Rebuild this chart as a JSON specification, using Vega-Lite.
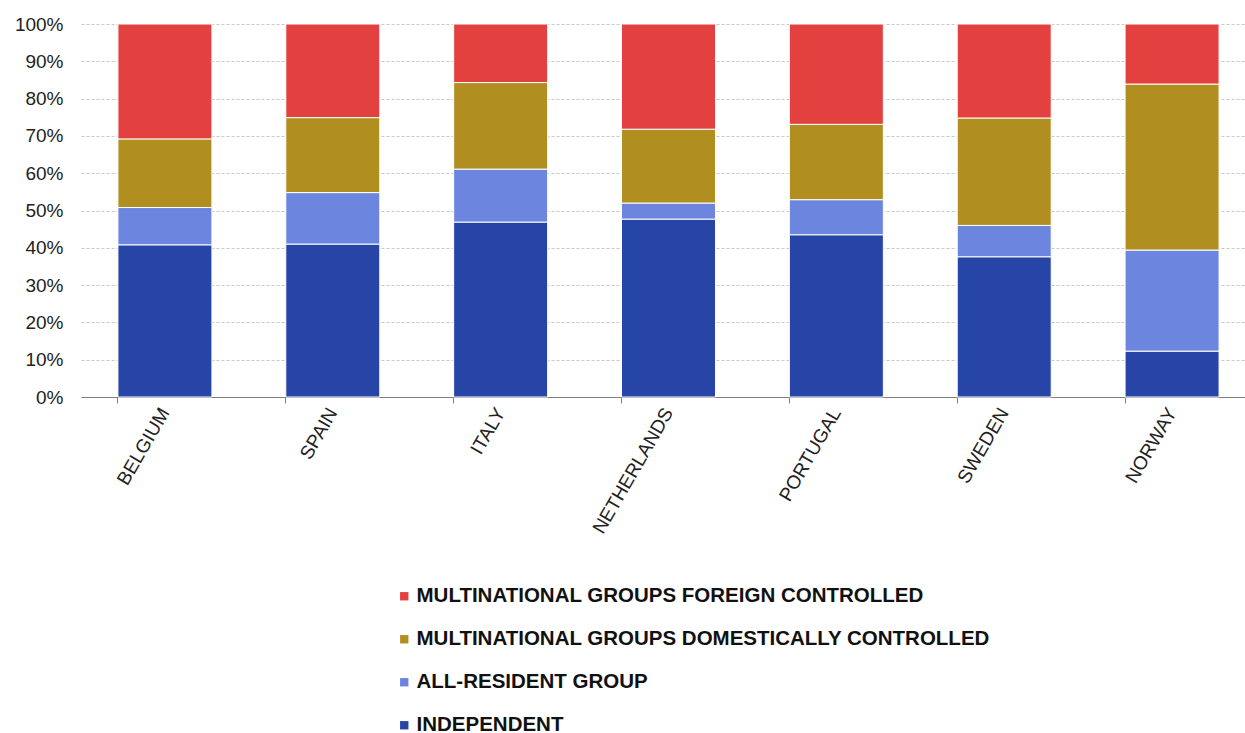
{
  "$schema": "https://vega.github.io/schema/vega-lite/v6.json",
  "width": 1175,
  "height": 373,
  "padding": {"left": 14, "top": 15, "right": 0, "bottom": 0},
  "background": "white",
  "config": {
    "view": {"stroke": null},
    "font": "Liberation Sans"
  },
  "data": {
    "values": [
      {"country": "BELGIUM", "cat": "INDEPENDENT", "rank": 1, "v": 40.8},
      {"country": "BELGIUM", "cat": "ALL-RESIDENT GROUP", "rank": 2, "v": 10.0},
      {"country": "BELGIUM", "cat": "MULTINATIONAL GROUPS DOMESTICALLY CONTROLLED", "rank": 3, "v": 18.4},
      {"country": "BELGIUM", "cat": "MULTINATIONAL GROUPS FOREIGN CONTROLLED", "rank": 4, "v": 30.8},
      {"country": "SPAIN", "cat": "INDEPENDENT", "rank": 1, "v": 41.0},
      {"country": "SPAIN", "cat": "ALL-RESIDENT GROUP", "rank": 2, "v": 13.8},
      {"country": "SPAIN", "cat": "MULTINATIONAL GROUPS DOMESTICALLY CONTROLLED", "rank": 3, "v": 20.1},
      {"country": "SPAIN", "cat": "MULTINATIONAL GROUPS FOREIGN CONTROLLED", "rank": 4, "v": 25.1},
      {"country": "ITALY", "cat": "INDEPENDENT", "rank": 1, "v": 46.9},
      {"country": "ITALY", "cat": "ALL-RESIDENT GROUP", "rank": 2, "v": 14.2},
      {"country": "ITALY", "cat": "MULTINATIONAL GROUPS DOMESTICALLY CONTROLLED", "rank": 3, "v": 23.2},
      {"country": "ITALY", "cat": "MULTINATIONAL GROUPS FOREIGN CONTROLLED", "rank": 4, "v": 15.7},
      {"country": "NETHERLANDS", "cat": "INDEPENDENT", "rank": 1, "v": 47.7},
      {"country": "NETHERLANDS", "cat": "ALL-RESIDENT GROUP", "rank": 2, "v": 4.3},
      {"country": "NETHERLANDS", "cat": "MULTINATIONAL GROUPS DOMESTICALLY CONTROLLED", "rank": 3, "v": 19.8},
      {"country": "NETHERLANDS", "cat": "MULTINATIONAL GROUPS FOREIGN CONTROLLED", "rank": 4, "v": 28.2},
      {"country": "PORTUGAL", "cat": "INDEPENDENT", "rank": 1, "v": 43.5},
      {"country": "PORTUGAL", "cat": "ALL-RESIDENT GROUP", "rank": 2, "v": 9.4},
      {"country": "PORTUGAL", "cat": "MULTINATIONAL GROUPS DOMESTICALLY CONTROLLED", "rank": 3, "v": 20.2},
      {"country": "PORTUGAL", "cat": "MULTINATIONAL GROUPS FOREIGN CONTROLLED", "rank": 4, "v": 26.9},
      {"country": "SWEDEN", "cat": "INDEPENDENT", "rank": 1, "v": 37.6},
      {"country": "SWEDEN", "cat": "ALL-RESIDENT GROUP", "rank": 2, "v": 8.4},
      {"country": "SWEDEN", "cat": "MULTINATIONAL GROUPS DOMESTICALLY CONTROLLED", "rank": 3, "v": 28.8},
      {"country": "SWEDEN", "cat": "MULTINATIONAL GROUPS FOREIGN CONTROLLED", "rank": 4, "v": 25.2},
      {"country": "NORWAY", "cat": "INDEPENDENT", "rank": 1, "v": 12.3},
      {"country": "NORWAY", "cat": "ALL-RESIDENT GROUP", "rank": 2, "v": 27.1},
      {"country": "NORWAY", "cat": "MULTINATIONAL GROUPS DOMESTICALLY CONTROLLED", "rank": 3, "v": 44.5},
      {"country": "NORWAY", "cat": "MULTINATIONAL GROUPS FOREIGN CONTROLLED", "rank": 4, "v": 16.1}
    ]
  },
  "mark": {"type": "bar", "stroke": "white", "strokeWidth": 1},
  "encoding": {
    "x": {
      "field": "country",
      "type": "nominal",
      "sort": null,
      "scale": {"paddingInner": 0.44, "paddingOuter": 0.22},
      "axis": {
        "title": null,
        "labelAngle": -60,
        "labelFontSize": 19,
        "labelColor": "#222222",
        "labelPadding": 6,
        "domainColor": "#808080",
        "tickColor": "#808080",
        "tickSize": 6,
        "bandPosition": 0,
        "grid": false
      }
    },
    "y": {
      "field": "v",
      "type": "quantitative",
      "stack": "normalize",
      "scale": {"domain": [0, 1]},
      "axis": {
        "title": null,
        "format": ".0%",
        "values": [0, 0.1, 0.2, 0.3, 0.4, 0.5, 0.6, 0.7, 0.8, 0.9, 1],
        "labelOverlap": false,
        "labelFontSize": 19,
        "labelColor": "#222222",
        "labelPadding": 18,
        "domain": false,
        "ticks": false,
        "grid": true,
        "gridColor": "#c8c8c8",
        "gridDash": [3, 2],
        "gridWidth": 1
      }
    },
    "color": {
      "field": "cat",
      "type": "nominal",
      "scale": {
        "domain": [
          "MULTINATIONAL GROUPS FOREIGN CONTROLLED",
          "MULTINATIONAL GROUPS DOMESTICALLY CONTROLLED",
          "ALL-RESIDENT GROUP",
          "INDEPENDENT"
        ],
        "range": ["#E24140", "#B08F20", "#6C86E0", "#2744A7"]
      },
      "legend": {
        "title": null,
        "orient": "none",
        "legendX": 313,
        "legendY": 562,
        "direction": "vertical",
        "symbolType": "square",
        "symbolSize": 70,
        "symbolStrokeWidth": 0,
        "labelFontSize": 20.5,
        "labelFontWeight": "bold",
        "labelColor": "#111111",
        "labelLimit": 900,
        "rowPadding": 22,
        "labelOffset": 2
      }
    },
    "order": {"field": "rank", "type": "quantitative", "sort": "ascending"}
  }
}
